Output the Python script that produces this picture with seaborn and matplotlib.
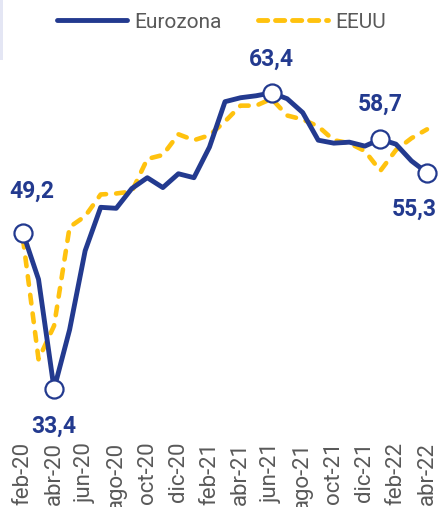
import matplotlib
matplotlib.use("Agg")
import matplotlib.pyplot as plt
from matplotlib.patches import Rectangle
from matplotlib.lines import Line2D
import seaborn as sns
import pandas as pd

months = ["feb-20", "mar-20", "abr-20", "may-20", "jun-20", "jul-20", "ago-20", "sep-20",
          "oct-20", "nov-20", "dic-20", "ene-21", "feb-21", "mar-21", "abr-21", "may-21",
          "jun-21", "jul-21", "ago-21", "sep-21", "oct-21", "nov-21", "dic-21", "ene-22",
          "feb-22", "mar-22", "abr-22"]
eurozona = [49.2, 44.5, 33.4, 39.4, 47.4, 51.8, 51.7, 53.7, 54.8, 53.8, 55.2, 54.8, 57.9,
            62.5, 62.9, 63.1, 63.4, 62.8, 61.4, 58.6, 58.3, 58.4, 58.0, 58.7, 58.2, 56.5, 55.3]
eeuu = [48.6, 36.4, 39.8, 49.8, 50.9, 53.1, 53.2, 53.4, 56.7, 57.1, 59.2, 58.6, 59.1,
        60.5, 62.1, 62.1, 62.8, 61.1, 60.7, 60.0, 58.6, 58.3, 57.5, 55.5, 57.6, 58.8, 59.7]
highlight_idx = [0, 2, 16, 23, 26]
label_offsets = {0: (6, 30), 2: (0, -27), 16: (0, 24), 23: (0, 25), 26: (-9, -26)}

BLUE = "#233a8f"
YELLOW = "#ffc20e"
GRAY = "#595959"

sns.set_style("white")
plt.rcParams["font.family"] = ["Roboto", "DejaVu Sans"]

df = pd.DataFrame({"i": list(range(len(months))), "Eurozona": eurozona, "EEUU": eeuu})

fig = plt.figure(figsize=(4.39, 5.07), dpi=100)
ax = fig.add_axes([0, 77 / 507, 1, 390 / 507])

sns.lineplot(data=df, x="i", y="EEUU", ax=ax, color=YELLOW, linewidth=3.3,
             dashes=False, zorder=2)
ax.lines[-1].set_dashes((1.9, 2.2))
ax.lines[-1].set_dash_capstyle("round")
sns.lineplot(data=df, x="i", y="Eurozona", ax=ax, color=BLUE, linewidth=3.5, zorder=3)
ax.lines[-1].set_solid_joinstyle("round")

hx = [df["i"][k] for k in highlight_idx]
hy = [eurozona[k] for k in highlight_idx]
ax.plot(hx, hy, linestyle="none", marker="o", markersize=13, markerfacecolor="white",
        markeredgecolor=BLUE, markeredgewidth=1.6, zorder=4)
for k in highlight_idx:
    dx, dy = label_offsets[k]
    ax.annotate(f"{eurozona[k]:.1f}".replace(".", ","), (k, eurozona[k]),
                xytext=(dx, dy), textcoords="offset points", ha="center", va="center",
                fontsize=16.5, fontweight="bold", color=BLUE, zorder=5)

ax.set_xlim(-23 / 15.54, 26 + 12 / 15.54)
ax.set_ylim(29.24, 68.75)
ticks = list(range(0, len(months), 2))
ax.set_xticks(ticks)
ax.set_xticklabels([months[t] for t in ticks], rotation=90, fontsize=16, color=GRAY)
ax.tick_params(axis="x", length=0, pad=8.5)
ax.set_yticks([])
ax.set_xlabel("")
ax.set_ylabel("")
for s in ax.spines.values():
    s.set_visible(False)
if ax.get_legend():
    ax.get_legend().remove()

handles = [Line2D([0], [0], color=BLUE, linewidth=3.5, solid_capstyle="round"),
           Line2D([0], [0], color=YELLOW, linewidth=3.5, dashes=(1.9, 1.6),
                  dash_capstyle="round")]
fig.legend(handles, ["Eurozona", "EEUU"], loc="center", bbox_to_anchor=(221.5 / 439, 1 - 22 / 507),
           ncol=2, frameon=False, fontsize=15, labelcolor=GRAY, handlelength=3.4,
           handletextpad=0.35, columnspacing=1.7)

fig.patches.append(Rectangle((0, 1 - 60 / 507), 3 / 439, 60 / 507, transform=fig.transFigure,
                             facecolor="#e4e6f4", edgecolor="none", zorder=0))

fig.savefig("out.png", dpi=100)
